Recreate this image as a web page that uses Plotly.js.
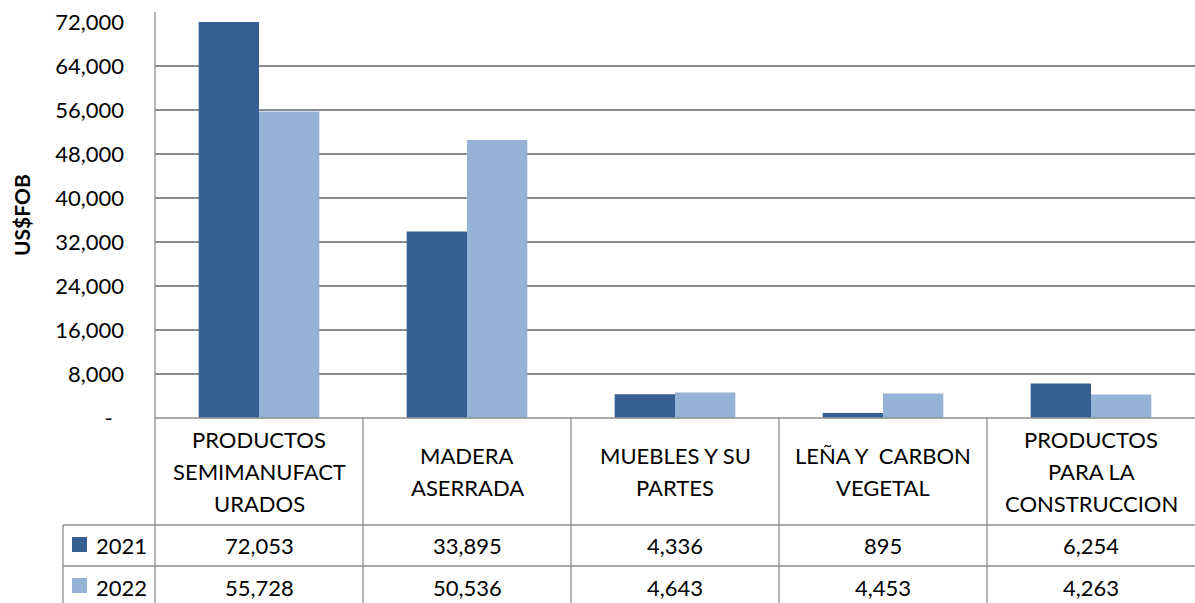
<!DOCTYPE html>
<html>
<head>
<meta charset="utf-8">
<script src="https://cdn.plot.ly/plotly-3.0.1.min.js"></script>
<style>
  html, body { margin: 0; padding: 0; background: #fff; }
  #chartDiv { width: 1195px; height: 603px; }
</style>
</head>
<body>
<div id="chartDiv"></div>
<script>
// data ------------------------------------------------------------
var categories = ['PRODUCTOS<br>SEMIMANUFACT<br>URADOS', 'MADERA<br>ASERRADA', 'MUEBLES Y SU<br>PARTES',
                  'LEÑA Y\u00a0 CARBON<br>VEGETAL', 'PRODUCTOS<br>PARA LA<br>CONSTRUCCION']
var seriesNames = ['2021', '2022']
var values2021 = [72053, 33895, 4336, 895, 6254]
var values2022 = [55728, 50536, 4643, 4453, 4263]
var yTicks = [0, 8000, 16000, 24000, 32000, 40000, 48000, 56000, 64000, 72000]

var colors = ['#376092', '#95b3d7']
var font = 'Lato, Calibri, "Open Sans", sans-serif'
var lineCol = '#8c8c8c'

// pixel helpers (plot area: x 155..1195, y 22..418)
var W = 1195, H = 603, L = 155, T = 22, PH = 396, PW = 1040
px2x = (px)=> (px - L) / PW
px2y = (py)=> (T + PH - py) / PH

var xIdx = categories.map((c, i) => i)
var fmt = (v)=> v.toLocaleString('en-US')

var trace1 = {
  type: 'bar', x: xIdx, y: values2021, name: seriesNames[0],
  marker: {color: colors[0]}, hoverinfo: 'y'
}
var trace2 = {
  type: 'bar', x: xIdx, y: values2022, name: seriesNames[1],
  marker: {color: colors[1]}, hoverinfo: 'y'
}

// data table lines
var shapes = []
var rowTop = px2y(525), rowMid = px2y(566), rowBot = px2y(603)
var ln = {color: lineCol, width: 1.3}
shapes.push({type: 'line', xref: 'paper', yref: 'paper', x0: 0, x1: 1, y0: 0, y1: 0, line: ln})
shapes.push({type: 'line', xref: 'paper', yref: 'paper', x0: px2x(63), x1: 1, y0: rowTop, y1: rowTop, line: ln})
shapes.push({type: 'line', xref: 'paper', yref: 'paper', x0: px2x(63), x1: 1, y0: rowMid, y1: rowMid, line: ln})
shapes.push({type: 'line', xref: 'paper', yref: 'paper', x0: px2x(63), x1: px2x(63), y0: rowTop, y1: rowBot, line: ln})
shapes.push({type: 'line', xref: 'paper', yref: 'paper', x0: 0, x1: 0, y0: rowBot, y1: px2y(12), line: ln})
categories.forEach((c, i) => {
  if (i > 0) {
    shapes.push({type: 'line', xref: 'paper', yref: 'paper', x0: i / categories.length, x1: i / categories.length,
                 y0: 0, y1: rowBot, line: ln})
  }
})
// legend keys in the table
;[[537, 552], [578, 593]].forEach((r, i) => {
  shapes.push({type: 'rect', xref: 'paper', yref: 'paper', x0: px2x(72), x1: px2x(87), y0: px2y(r[0]), y1: px2y(r[1]),
               fillcolor: colors[i], line: {width: 0}})
})

var txtFont = {family: font, size: 22, color: '#000'}
var annotations = []
categories.forEach((c, i) => {
  // one annotation per line so the line spacing matches (32px)
  var lines = c.split('<br>')
  lines.forEach((t, k) => {
    var cy = 471.5 + (k - (lines.length - 1) / 2) * 32
    annotations.push({xref: 'x', yref: 'paper', x: i, y: px2y(cy), text: t, showarrow: false,
                      yanchor: 'middle', font: txtFont})
  })
  annotations.push({xref: 'x', yref: 'paper', x: i, y: px2y(545), text: fmt(values2021[i]), showarrow: false,
                    yanchor: 'middle', font: txtFont})
  annotations.push({xref: 'x', yref: 'paper', x: i, y: px2y(587), text: fmt(values2022[i]), showarrow: false,
                    yanchor: 'middle', font: txtFont})
})
seriesNames.forEach((s, i) => {
  annotations.push({xref: 'paper', yref: 'paper', x: px2x(94), y: px2y([545, 587][i]), text: s, showarrow: false,
                    xanchor: 'left', yanchor: 'middle', font: txtFont})
})
// axis title
annotations.push({xref: 'paper', yref: 'paper', x: px2x(21), y: px2y(215), text: '<b>US$FOB</b>', textangle: -90,
                  showarrow: false, xanchor: 'center', yanchor: 'middle', font: {family: font, size: 21, color: '#000'}})

var layout = {
  width: W, height: H,
  margin: {l: L, r: 0, t: T, b: H - T - PH, pad: 0},
  paper_bgcolor: '#fff', plot_bgcolor: '#fff',
  barmode: 'group', bargap: 0.42, bargroupgap: 0,
  showlegend: false,
  xaxis: {
    type: 'linear', range: [-0.5, categories.length - 0.5],
    showticklabels: false, showgrid: false, zeroline: false, showline: false, fixedrange: true
  },
  yaxis: {
    range: [0, 72000], tickvals: yTicks,
    ticktext: yTicks.map(v => v === 0 ? '-\u00a0\u00a0' : fmt(v)),
    tickfont: txtFont,
    ticklabelstandoff: 30,
    showgrid: true, gridcolor: lineCol, gridwidth: 1.3,
    zeroline: false, showline: false, ticks: '', fixedrange: true
  },
  shapes: shapes,
  annotations: annotations
}

Plotly.newPlot('chartDiv', [trace1, trace2], layout, {displayModeBar: false, staticPlot: true})
</script>
</body>
</html>
